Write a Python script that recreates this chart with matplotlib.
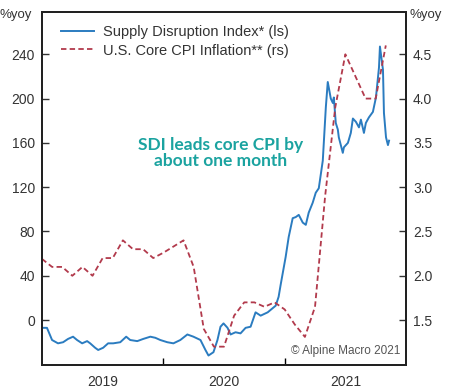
import numpy as np
import matplotlib
matplotlib.use('Agg')
import matplotlib.pyplot as plt

plt.rcParams['font.family'] = ['Liberation Sans', 'DejaVu Sans']

# Supply Disruption Index (left scale), dates as fractional years
sdi_dates = [2019.006, 2019.041, 2019.083, 2019.132, 2019.174, 2019.215, 2019.256,
             2019.289, 2019.331, 2019.372, 2019.397, 2019.438, 2019.463, 2019.504,
             2019.545, 2019.587, 2019.645, 2019.694, 2019.727, 2019.785, 2019.835,
             2019.893, 2019.934, 2019.975, 2020.033, 2020.083, 2020.140, 2020.198,
             2020.248, 2020.306, 2020.347, 2020.372, 2020.413, 2020.446, 2020.471,
             2020.496, 2020.529, 2020.554, 2020.595, 2020.636, 2020.678, 2020.719,
             2020.760, 2020.802, 2020.860, 2020.926, 2020.950, 2020.967, 2021.008,
             2021.033, 2021.066, 2021.091, 2021.116, 2021.149, 2021.174, 2021.198,
             2021.231, 2021.256, 2021.281, 2021.314, 2021.339, 2021.355, 2021.380,
             2021.397, 2021.405, 2021.421, 2021.438, 2021.446, 2021.479, 2021.488,
             2021.521, 2021.545, 2021.562, 2021.587, 2021.612, 2021.628, 2021.645,
             2021.653, 2021.669, 2021.694, 2021.727, 2021.752, 2021.777, 2021.785,
             2021.810, 2021.818, 2021.835, 2021.851, 2021.860]
sdi_values = [-7, -7, -18, -21, -20, -17, -15, -18, -21, -19, -21, -25, -27, -25,
              -21, -21, -20, -15, -18, -19, -17, -15, -16, -18, -20, -21, -18, -13,
              -15, -18, -27, -32, -29, -18, -6, -3, -7, -13, -11, -12, -7, -6,
              7, 4, 7, 13, 21, 32, 57, 75, 92, 93, 95, 88, 86, 97, 106, 115, 119,
              144, 192, 215, 200, 196, 201, 178, 172, 165, 151, 156, 160, 169, 182,
              179, 174, 181, 173, 169, 178, 183, 188, 201, 228, 247, 226, 187, 165,
              158, 162]

# U.S. core CPI inflation (right scale), monthly from Dec 2018
cpi_start = 2019.0
cpi_values = [2.19, 2.1, 2.1, 2.0, 2.1, 2.0, 2.2, 2.2, 2.4, 2.3, 2.3, 2.2,
              2.26, 2.33, 2.4, 2.1, 1.4, 1.2, 1.2, 1.55, 1.7, 1.7, 1.65, 1.7,
              1.62, 1.45, 1.31, 1.65, 2.9, 3.9, 4.5, 4.25, 4.0, 4.0, 4.6]
cpi_dates = cpi_start + np.arange(len(cpi_values)) / 12

left_ticks = [0, 40, 80, 120, 160, 200, 240]
right_ticks = [1.5, 2.0, 2.5, 3.0, 3.5, 4.0, 4.5]
year_labels = ['2019', '2020', '2021']

blue = '#2b7cc0'
red = '#b23a4c'
txt = '#333333'

fig = plt.figure(figsize=(4.5, 3.9), dpi=100)
ax = fig.add_axes([0.0933, 0.064, 0.809, 0.905])
ax2 = ax.twinx()

l1, = ax.plot(sdi_dates, sdi_values, color=blue, lw=1.4,
              label='Supply Disruption Index* (ls)')
l2, = ax2.plot(cpi_dates, cpi_values, color=red, lw=1.3, ls=(0, (3.0, 1.8)),
               label='U.S. Core CPI Inflation** (rs)')

ylo, yhi = -40.6, 278.1
ax.set_ylim(ylo, yhi)
ax2.set_ylim(1.5 + ylo / 80, 1.5 + yhi / 80)
ax.set_xlim(2019.0, 2022.0)

ax.set_yticks(left_ticks)
ax2.set_yticks(right_ticks)
ax2.set_yticklabels([f'{v:.1f}' for v in right_ticks])
ax.set_xticks([2020, 2021])
ax.set_xticklabels([])
ax.set_xticks([2019.5, 2020.5, 2021.5], minor=True)
ax.set_xticklabels(year_labels, minor=True)

ax.tick_params(axis='y', direction='in', length=5, width=1, colors=txt,
               labelsize=10, pad=5)
ax2.tick_params(axis='y', direction='in', length=5, width=1, colors=txt,
                labelsize=10, pad=5)
ax.tick_params(axis='x', which='major', direction='in', length=5, width=1)
ax.tick_params(axis='x', which='minor', length=0, labelsize=10,
               labelcolor=txt, pad=7)

for a in (ax, ax2):
    for s in a.spines.values():
        s.set_linewidth(1.4)
        s.set_color('#222222')

fig.text(0.0, 0.962, '%yoy', fontsize=9.5, color=txt, ha='left', va='center')
fig.text(0.91, 0.962, '%yoy', fontsize=9.5, color=txt, ha='left', va='center')

ax.legend(handles=[l1, l2], loc='upper left', bbox_to_anchor=(0.015, 1.0),
          frameon=False, fontsize=10.5, handlelength=2.3, handletextpad=0.6,
          labelspacing=0.3, labelcolor=txt)

ax.text(0.49, 0.60, 'SDI leads core CPI by\nabout one month', transform=ax.transAxes,
        ha='center', va='center', fontsize=12.5, fontweight='bold',
        color='#1ba3a0', family='Lato', linespacing=1.0)
ax.text(0.985, 0.04, '\u00a9 Alpine Macro 2021', transform=ax.transAxes,
        ha='right', va='center', fontsize=8.5, color='#555555')

fig.savefig('out.png', dpi=100)
